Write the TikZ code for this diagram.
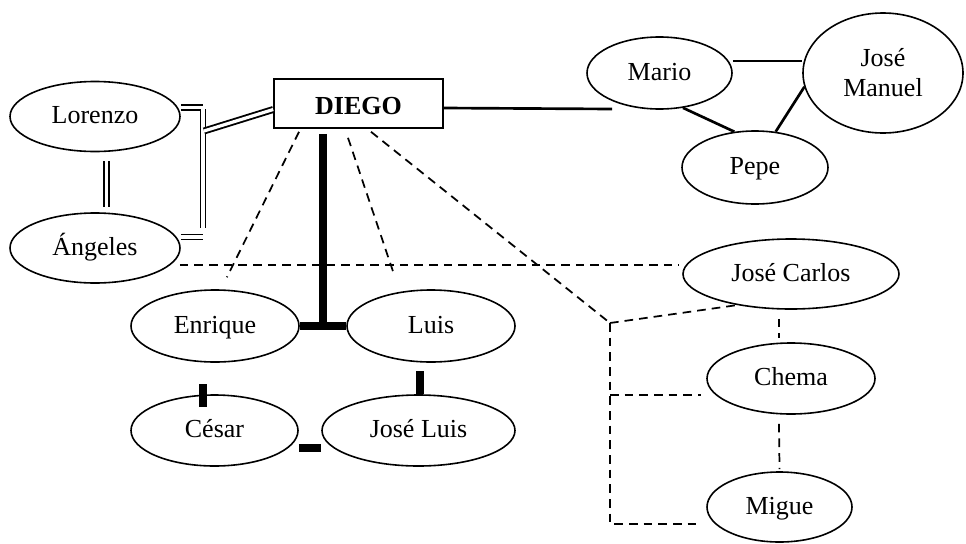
\documentclass[tikz,border=0pt]{standalone}
\usepackage{fontspec}
\setmainfont{Liberation Serif}
\usepackage{xcolor}
\usepackage{tikz}
\usetikzlibrary{shapes.geometric}

\begin{document}
\begin{tikzpicture}[x=0.75pt, y=-0.75pt, line width=1.2pt,
    persona/.style={ellipse, draw, inner sep=0pt, align=center,
        text height=14pt, text depth=3.5pt,
        font=\fontsize{19.5}{22.5}\selectfont},
    jefe/.style={rectangle, draw, inner sep=0pt, minimum width=126.75pt,
        minimum height=36.75pt, text height=18pt, text depth=1.5pt,
        font=\fontsize{19.5}{22.5}\selectfont\bfseries},
    lazo/.style={line width=2pt},
    doble/.style={double, double distance=2.4pt, line width=1.4pt},
    rel/.style={dash pattern=on 6.5pt off 4.5pt, line width=1.3pt},
    grueso/.style={line width=6pt}]
    \useasboundingbox (0,0) rectangle (966,543);

    % personas
    \node[jefe] (diego) at (358.5,103.5) {DIEGO};
    \node[persona, minimum width=127.5pt, minimum height=52.5pt] (lorenzo) at (95,116.5) {Lorenzo};
    \node[persona, minimum width=127.5pt, minimum height=52.5pt] (angeles) at (95,248) {Ángeles};
    \node[persona, minimum width=108.75pt, minimum height=54pt] (mario) at (659.5,73) {Mario};
    \node[persona, minimum width=120pt, minimum height=90pt, text height=, text depth=] (josemanuel) at (883,73) {José\\Manuel};
    \node[persona, minimum width=109.5pt, minimum height=54.75pt] (pepe) at (755,167.5) {Pepe};
    \node[persona, minimum width=162pt, minimum height=52.5pt] (josecarlos) at (791,274) {José Carlos};
    \node[persona, minimum width=126pt, minimum height=53.25pt] (chema) at (791,378.5) {Chema};
    \node[persona, minimum width=108.75pt, minimum height=52.5pt] (migue) at (779.5,507) {Migue};
    \node[persona, minimum width=126pt, minimum height=54pt] (enrique) at (215,326) {Enrique};
    \node[persona, minimum width=126pt, minimum height=54pt] (luis) at (431,326) {Luis};
    \node[persona, minimum width=125.25pt, minimum height=53.25pt] (cesar) at (214.5,430.5) {César};
    \node[persona, minimum width=144.75pt, minimum height=53.25pt] (joseluis) at (418.5,430.5) {José Luis};

    % puntos de union
    \coordinate (llaveA) at (203,107.5);
    \coordinate (llaveB) at (203,237);
    \coordinate (llaveC) at (203,109);
    \coordinate (llaveD) at (203,228);
    \coordinate (llave) at (204,131);
    \coordinate (finMario) at (612,109);
    \coordinate (jc) at (610,323);
    \coordinate (pchema) at ([shift={(-5,16.5)}]chema.west);
    \coordinate (pdiego) at ([shift={(-35.5,5)}]diego.south);

    % lineas dobles
    \draw[doble] ([shift={(11.5,9)}]lorenzo.south) -- ([shift={(11.5,-5)}]angeles.north);
    \draw[doble] (lorenzo.east |- llaveA) -- (llaveA);
    \draw[doble] (angeles.east |- llaveB) -- (llaveB);
    \draw[doble] (llaveC) -- (llaveD);
    \draw[doble] (llave) -- ([shift={(0,6)}]diego.west);

    % lineas simples
    \draw[lazo] ([shift={(0,4.5)}]diego.east) -- (finMario);
    \draw[lazo] ([shift={(0,-12)}]mario.east) -- ([shift={(0,-12)}]josemanuel.west);
    \draw[lazo] (mario.-56) -- (pepe.120);
    \draw[lazo] (pepe.60) -- (josemanuel.190);

    % lineas discontinuas
    \draw[rel, shorten >=10pt] ([shift={(-59.5,3)}]diego.south) -- ([shift={(6,0)}]enrique.north);
    \draw[rel, shorten >=10pt] ([shift={(-10.5,9)}]diego.south) -- ([shift={(-32,0)}]luis.north);
    \draw[rel] ([shift={(12.5,3)}]diego.south) -- (jc);
    \draw[rel] (jc) -- (josecarlos.210);
    \draw[rel] (jc) |- ([shift={(-5,17)}]migue.west);
    \draw[rel] (pchema -| jc) -- (pchema);
    \draw[rel] ([shift={(-1,17)}]angeles.east) -- ([shift={(-3,-9)}]josecarlos.west);
    \draw[rel] ([shift={(-12,9)}]josecarlos.south) -- ([shift={(-12,-4)}]chema.north);
    \draw[rel] ([shift={(-12,9)}]chema.south) -- ([shift={(0,-2)}]migue.north);

    % lineas gruesas
    \draw[grueso] (enrique.east) -- (luis.west);
    \draw[grueso] (pdiego) -- (pdiego |- enrique.east);
    \draw[grueso] ([shift={(-11.5,-10)}]cesar.north) -- ([shift={(-11.5,13)}]cesar.north);
    \draw[grueso] ([shift={(1,-23)}]joseluis.north) -- ([shift={(1,0)}]joseluis.north);
    \draw[grueso] ([shift={(0,17)}]cesar.east) -- ([shift={(0,17)}]joseluis.west);
\end{tikzpicture}
\end{document}
